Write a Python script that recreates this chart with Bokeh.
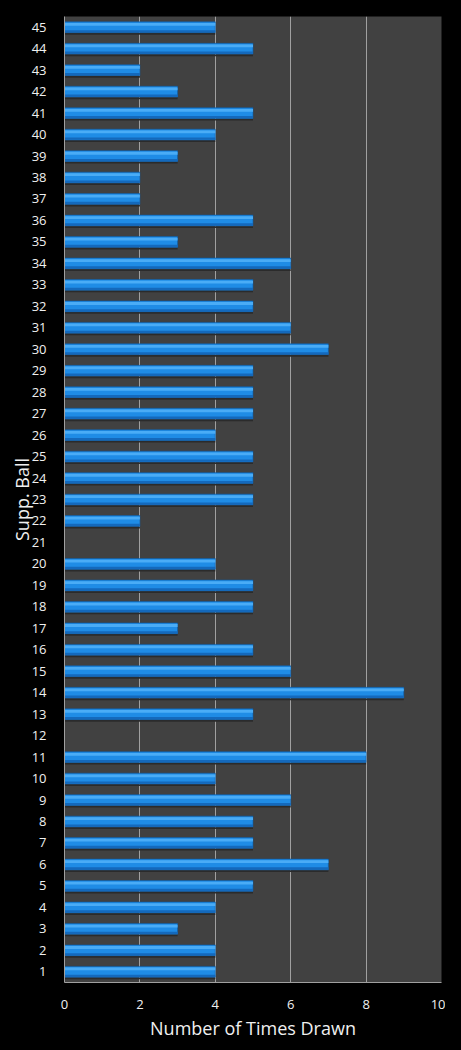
from bokeh.plotting import figure
from bokeh.embed import file_html
from bokeh.resources import INLINE
from bokeh.models import ColumnDataSource, FixedTicker

balls = list(range(1, 46))
times_drawn = [4, 4, 3, 4, 5, 7, 5, 5, 6, 4,
               8, 0, 5, 9, 6, 5, 3, 5, 5, 4,
               0, 2, 5, 5, 5, 4, 5, 5, 5, 7,
               6, 5, 5, 6, 3, 5, 2, 2, 3, 4,
               5, 3, 2, 5, 4]
x_ticks = [0, 2, 4, 6, 8, 10]

src = ColumnDataSource(dict(
    y=balls,
    right=times_drawn,
    y_hi=[b + 0.13 for b in balls],
    y_lo=[b - 0.19 for b in balls],
    y_sh=[b - 0.31 for b in balls],
))

p = figure(width=445, height=1042, x_range=(0, 10), y_range=(0.5, 45.5),
           output_backend="svg", toolbar_location=None,
           background_fill_color="#414141", border_fill_color="black",
           outline_line_color=None,
           min_border_left=64, min_border_right=4, min_border_top=16,
           min_border_bottom=57)

# shadow
p.hbar(y="y_sh", right="right", left=0, height=0.08, source=src,
       fill_color="#2b2b2b", line_color=None)
# main bar
p.hbar(y="y", right="right", left=0, height=0.5, source=src,
       fill_color="#1f8ce6", line_color="#0d5aa3", line_width=0.6)
# highlight
p.hbar(y="y_hi", right="right", left=0, height=0.13, source=src,
       fill_color="#4aacf6", line_color=None)
# darker lower band
p.hbar(y="y_lo", right="right", left=0, height=0.11, source=src,
       fill_color="#1469bc", line_color=None)

p.xaxis.ticker = FixedTicker(ticks=x_ticks)
p.yaxis.ticker = FixedTicker(ticks=balls)
p.ygrid.grid_line_color = None
p.xgrid.grid_line_color = "#a0a0a0"
p.xgrid.grid_line_width = 1

for ax in (p.xaxis[0], p.yaxis[0]):
    ax.axis_line_color = "#a0a0a0"
    ax.major_tick_line_color = None
    ax.minor_tick_line_color = None
    ax.major_label_text_color = "#f0f0f0"
    ax.major_label_text_font = "Open Sans"
    ax.major_label_text_font_size = "13px"
    ax.axis_label_text_color = "#f0f0f0"
    ax.axis_label_text_font = "Open Sans"
    ax.axis_label_text_font_style = "normal"
    ax.axis_label_text_font_size = "18px"

p.xaxis.axis_label = "Number of Times Drawn"
p.yaxis.axis_label = "Supp. Ball"
p.xaxis.major_label_standoff = 11
p.yaxis.major_label_standoff = 12
p.xaxis.axis_label_standoff = 4
p.yaxis.axis_label_standoff = -5

html = file_html(p, INLINE)
html = html.replace("<head>", "<head><style>html,body{background:#000;}</style>", 1)
open("out.html", "w").write(html)
